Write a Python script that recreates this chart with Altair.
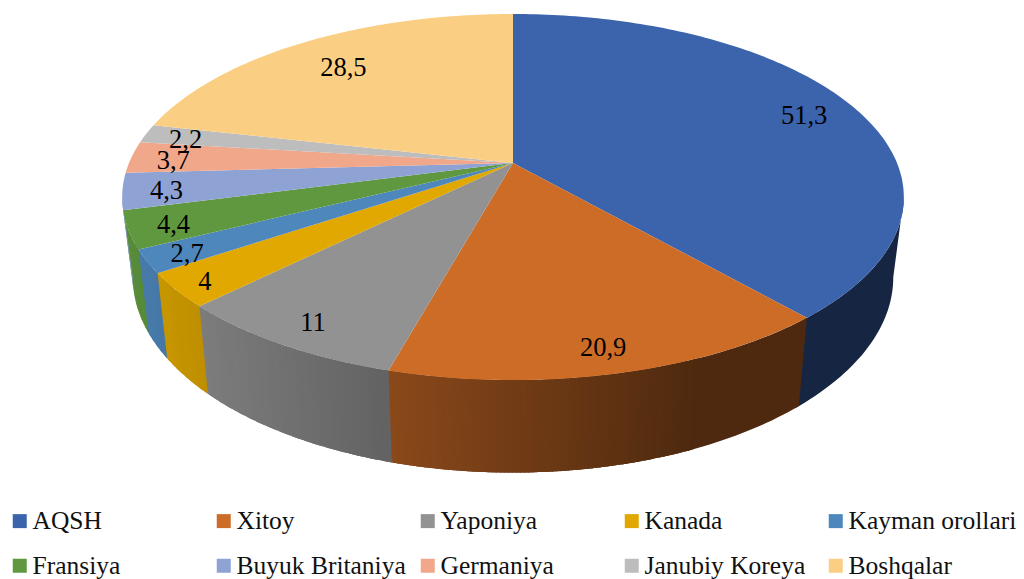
import math
import altair as alt

names = ["AQSH", "Xitoy", "Yaponiya", "Kanada", "Kayman orollari", "Fransiya",
         "Buyuk Britaniya", "Germaniya", "Janubiy Koreya", "Boshqalar"]
values = [51.3, 20.9, 11, 4, 2.7, 4.4, 4.3, 3.7, 2.2, 28.5]
labels = ["51,3", "20,9", "11", "4", "2,7", "4,4", "4,3", "3,7", "2,2", "28,5"]
colors = ["#3B64AD", "#CD6C27", "#929292", "#E0A800", "#4E87BB",
          "#5F983E", "#8FA2D4", "#F1A78A", "#BDBDBD", "#FBCF83"]

# Perspective model of the tilted disc, in page pixels (8px body margin removed)
AX, AY = 513 - 8, 163 - 8
A, B, P = 384.0, 176.7, 0.186
BOT_X, BOT_B, BOT_D = 0.973, 174.0, 78.0
label_radius = {"AQSH": 0.855, "Boshqalar": 0.79, "Kanada": 0.925, "Xitoy": 0.885,
                "Yaponiya": 0.885, "Fransiya": 0.89, "Kayman orollari": 0.9}


def top(theta, r=1.0):
    u, v = r * math.sin(theta), -r * math.cos(theta)
    d = 1 - P * v
    return [AX + A * u / d, AY + B * v / d]


def bottom(theta):
    u, v = math.sin(theta), -math.cos(theta)
    d = 1 - P * v
    return [AX + BOT_X * A * u / d, AY + (BOT_B * v + BOT_D) / d]


def shade_factor(x):
    f = max(0.38, 0.85 - 0.00094 * (x + 8 - 200))
    return round(min(f, 0.93) * 250) / 250


def shaded(hex_color, f):
    rgb = [int(hex_color[i:i + 2], 16) for i in (1, 3, 5)]
    return "#%02x%02x%02x" % tuple(int(round(c * f)) for c in rgb)


total = sum(values)
tops, sides, texts = [], [], []
lo = math.pi - math.asin(math.sqrt(1 - P * P))
hi = 2 * math.pi - lo
cum = 0.0
overlap = math.radians(0.8)
for name, val, lab, col in zip(names, values, labels, colors):
    t0 = cum / total * 2 * math.pi
    t1 = (cum + val) / total * 2 * math.pi
    cum += val
    n = max(2, int((t1 - t0) / math.radians(1)))
    ring = [[AX, AY]] + [top(t0 + (t1 - t0) * i / n) for i in range(n + 1)] + [[AX, AY]]
    tops.append({"type": "Feature", "properties": {"name": name},
                 "geometry": {"type": "Polygon", "coordinates": [ring]}})
    s0, s1 = max(t0, lo), min(t1, hi)
    if s1 > s0:
        m = max(1, int((s1 - s0) / math.radians(0.5)))
        runs = []
        for i in range(m):
            a = s0 + (s1 - s0) * i / m
            b = s0 + (s1 - s0) * (i + 1) / m
            f = shade_factor((top(a)[0] + top(b)[0]) / 2)
            if runs and runs[-1][0] == f:
                runs[-1][2] = b
            else:
                runs.append([f, a, b])
        # Bands are painted in angle order, each running slightly under the next, so no seams show
        for f, a, b in runs:
            b = min(b + overlap, hi)
            k = max(1, int((b - a) / math.radians(1)))
            angs = [a + (b - a) * j / k for j in range(k + 1)]
            p = [top(t) for t in angs] + [bottom(t) for t in reversed(angs)]
            p.append(p[0])
            sides.append({"type": "Feature", "properties": {"c": shaded(col, f)},
                          "geometry": {"type": "Polygon", "coordinates": [p]}})
    mid = (t0 + t1) / 2
    x, y = top(mid, label_radius.get(name, 0.89))
    texts.append({"lon": x, "lat": y, "t": lab})

side_layer = alt.Chart(alt.Data(values=sides)).mark_geoshape(strokeWidth=0).encode(
    fill=alt.Fill("properties.c:N", scale=None, legend=None),
)

top_layer = alt.Chart(alt.Data(values=tops)).mark_geoshape(strokeWidth=0).encode(
    fill=alt.Fill(
        "properties.name:N",
        scale=alt.Scale(domain=names, range=colors),
        sort=names,
        legend=alt.Legend(
            title=None, orient="none", legendX=-1, legendY=500,
            direction="horizontal", columns=5, gridAlign="all",
            symbolType="square", symbolSize=196, symbolStrokeWidth=0,
            symbolOpacity=1, labelFont="Liberation Serif", labelFontSize=25.5,
            labelColor="#111111", labelOffset=0, labelLimit=300,
            columnPadding=9, rowPadding=18,
        ),
    )
)

text_layer = alt.Chart(alt.Data(values=texts)).mark_text(
    font="Liberation Serif", fontSize=26.5, color="#000000", baseline="middle", align="center", dy=3
).encode(longitude="lon:Q", latitude="lat:Q", text="t:N")

chart = alt.layer(side_layer, top_layer, text_layer).resolve_scale(fill="independent").properties(
    width=1008, height=571, padding=0, background="white",
    autosize=alt.AutoSizeParams(type="none"),
    projection=alt.Projection(type="identity", scale=1, translate=[0, 0]),
).configure_view(stroke=None)

chart.save("out.html", embed_options={"renderer": "svg", "actions": False})
